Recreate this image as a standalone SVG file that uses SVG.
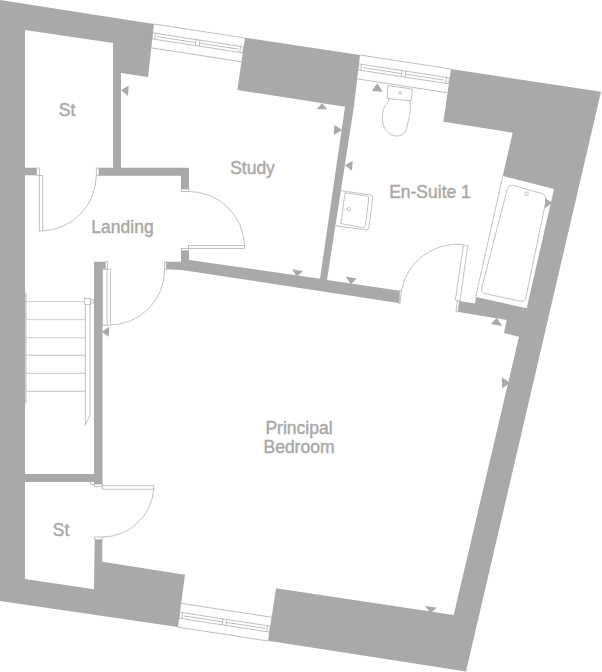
<svg xmlns="http://www.w3.org/2000/svg" width="602" height="672" viewBox="0 0 602 672">
<defs>
<style>
.w{fill:#a9a9a8}
.l{fill:none;stroke:#a9a9a8;stroke-width:.7}
.f{fill:#fff;stroke:#a9a9a8;stroke-width:.7}
.s{fill:none;stroke:#cfcfcf;stroke-width:1}
.t{fill:#a9a9a8;font-family:"Liberation Sans",Arial,sans-serif;font-size:17.5px;text-anchor:middle;stroke:#a9a9a8;stroke-width:.45}
</style>
<g id="win">
<path class="l" d="M0 0H92M-.5 24H92"/>
<path class="l" d="M3 9H89M3 15H89M5 12H44M48 12H87M44 9V15M48 9V15M0 9H3V15H0ZM89 9H92V15H89Z"/>
</g>
</defs>
<rect width="602" height="672" fill="#fff"/>
<g id="walls">
<polygon class="w" points="0,0 154,24 148,77 121,73 121,167.700 189,167.700 189,190 181,190 181,175.700 99,175.700 99,167.700 113,167.700 113,43 25,30 25,167.700 36.700,167.700 36.700,175.300 25,175.300 25,474 94,474 94,261.700 105.300,261.700 105.300,269 102.500,269 102.500,486 94,486 94,482 25,482 25,579 94,589.300 94.700,540 102.300,540 102.300,561.700 185,574.700 178,627 0,601"/>
<polygon class="w" points="245,37.700 360,55 354,106 327,280 400,290.700 400,303.300 300,288 181.700,270 166,269.300 166,261.700 181,261.700 181,250.700 189,250.700 189,260 320,278.700 345,106.700 237.300,90"/>
<polygon class="w" points="451,69 601,91.700 466,671.600 268,640.700 276,588.300 453.700,615 519,336.700 504,333 506.700,320 457.300,311.700 459.300,301 475,303.500 476,297 526.700,308.300 554,189 502.700,176 512.700,132.700 443.300,121.700"/>
</g>
<g id="windows">
<use href="#win" transform="translate(154 24) rotate(8.750)"/>
<use href="#win" transform="translate(360 55) rotate(8.750)"/>
<use href="#win" transform="translate(181 603.300) rotate(8.750)"/>
</g>
<g id="doors">
<rect class="f" x="36.700" y="168" width="2.600" height="7.300"/>
<rect class="f" x="39.300" y="175.300" width="3.500" height="55.700"/>
<rect class="f" x="96.300" y="168" width="2.700" height="7.500"/>
<path class="l" d="M42.800 231A56 56 0 0 0 96.300 175.500"/>
<rect class="f" x="181" y="189" width="8" height="2.500"/>
<rect class="f" x="188.500" y="245.500" width="56" height="3"/>
<rect class="f" x="181" y="248.500" width="7.500" height="2.200"/>
<path class="l" d="M189 191.500A55.500 55.500 0 0 1 244.500 245.500"/>
<rect class="f" x="105.300" y="261.700" width="2.400" height="7.500"/>
<rect class="f" x="102.700" y="269.200" width="7.600" height="56"/>
<path class="l" d="M107 269.200V325"/>
<rect class="f" x="164.500" y="262" width="2" height="7.300"/>
<path class="l" d="M110.300 325A55 55 0 0 0 164.500 269.300"/>
<rect class="f" x="90.700" y="481.700" width="3.600" height="2.600"/>
<rect class="f" x="94.300" y="484" width="8" height="2.700"/>
<rect class="f" x="102.300" y="485.700" width="51.400" height="3.500"/>
<rect class="f" x="94.700" y="537" width="7.600" height="2.700"/>
<path class="l" d="M153.700 489.200A51.500 51.500 0 0 1 102.300 537"/>
<polygon class="f" points="399.500,290.500 401.300,291 400,303.500 399,303.300"/>
<polygon class="f" points="463.500,245 467.700,245.700 460,301 455.300,300"/>
<path class="l" d="M401.300 291A57 57 0 0 1 463.500 244.500"/>
<polygon class="f" points="457.300,301 459.500,301.200 458,312 456,311.700"/>
</g>
<g id="stairs">
<rect x="25" y="293" width="1.700" height="110" fill="#cfcfcf"/>
<path class="s" d="M26.700 301.700H85M26.700 319.700H85M26.700 337.700H85"/>
<path class="l" d="M26.700 355.300H85M26.700 373.300H85M26.700 391.300H85"/>
<path class="l" d="M85.300 304V425L90 415V304"/>
<rect class="f" x="84.700" y="298.300" width="6" height="6"/>
<rect class="f" x="90.700" y="300" width="3.300" height="3"/>
</g>
<g id="fixtures">
<path class="l" d="M387.700 85.700L412.700 89L411 100.700Q400 100 387.300 98.300Z"/>
<circle class="l" cx="400" cy="92.700" r="1.300"/>
<path class="l" d="M388 98.500C389 100 389 101 388 102C384 106 382 112 382.500 120C383 130 390 136 397 136C403 136 406 132 407 127C409 118 411 110 410.500 106C410 104 409 102 411 100"/>
<path class="l" d="M340 190.500L371 195Q373 195.300 372.700 198L369 227Q368.500 230.300 366 230L336 225.700"/>
<path class="l" d="M345 192.700L367 196Q369 196.300 368.700 199L365.500 225Q365 228 362 227.500L341 223.500Z"/>
<circle class="l" cx="349" cy="209.300" r="1.700"/>
<path class="l" d="M502.700 176.500L475.700 296.700"/>
<path class="l" d="M513.500 185.500L541.500 193.500Q547 195 546 200.500L526 297Q525 302.500 519.500 301L485 293.700Q480.500 292.500 481.700 288L507 190Q508.500 184 513.500 185.500Z"/>
<circle class="l" cx="526.700" cy="193.700" r="1.700"/>
</g>
<g id="markers" class="w">
<polygon points="121,90 128.700,85.700 128,96"/>
<polygon points="316.700,109.300 322,103.300 327.300,109.300"/>
<polygon points="334.300,125 342.300,130 333.700,135"/>
<polygon points="352.700,160.700 345,165.300 352,170.700"/>
<polygon points="371.700,91 377.300,83.300 382.700,91.700"/>
<polygon points="345.700,276.700 356.700,278.500 351,284.300"/>
<polygon points="292,269.300 303,271 296.700,276.500"/>
<polygon points="545,198.300 552.300,202.700 545,208.300"/>
<polygon points="490.700,324 496.700,317.700 502.300,326"/>
<polygon points="501.700,377.300 510,382.700 502.300,388.300"/>
<polygon points="425,605.700 436.700,607.700 430.700,613.300"/>
<polygon points="101.700,331.700 109.300,326.700 108.700,336.700"/>
</g>
<g id="labels">
<text class="t" x="67" y="116">St</text>
<text class="t" x="252.500" y="174">Study</text>
<text class="t" x="122.500" y="233">Landing</text>
<text class="t" x="430" y="198">En-Suite 1</text>
<text class="t" x="299" y="434">Principal</text>
<text class="t" x="299" y="453">Bedroom</text>
<text class="t" x="61" y="536">St</text>
</g>
</svg>
